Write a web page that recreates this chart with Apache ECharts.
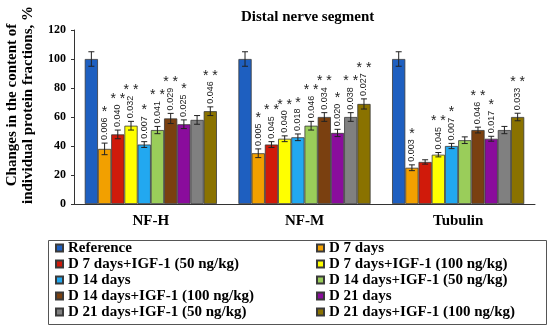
<!DOCTYPE html>
<html><head><meta charset="utf-8">
<script src="https://cdn.jsdelivr.net/npm/echarts@6/dist/echarts.min.js"></script>
<style>html,body{margin:0;padding:0;background:#fff}#c{width:550px;height:326px}</style>
</head><body><div id="c"></div>
<script>
const categories = ['NF-H', 'NF-M', 'Tubulin'];
const seriesNames = ['Reference', 'D 7 days', 'D 7 days+IGF-1 (50 ng/kg)', 'D 7 days+IGF-1 (100 ng/kg)',
  'D 14 days', 'D 14 days+IGF-1 (50 ng/kg)', 'D 14 days+IGF-1 (100 ng/kg)', 'D 21 days',
  'D 21 days+IGF-1 (50 ng/kg)', 'D 21 days+IGF-1 (100 ng/kg)'];
const seriesColors = ['#1E5FC0', '#F2A000', '#D01A0A', '#FFFF00', '#22A8F0', '#9ACD5A', '#7A4010', '#8A0C9C', '#808080', '#8A7200'];

const nfH = [100, 38, 48, 54, 41, 51, 59, 55, 58, 64];
const nfM = [100, 35, 41, 45, 46, 54, 60, 49, 60, 69];
const tubulin = [100, 25, 29, 34, 40, 44, 51, 45, 51, 60];

const nfHErr = [5, 4, 3, 3, 2, 2.5, 3.5, 3, 3, 3];
const nfMErr = [5, 3, 2, 2, 2.3, 3, 3, 2.5, 3, 3.5];
const tubulinErr = [5, 2, 1.5, 1.5, 1.8, 2.3, 2, 1.7, 2.5, 2.6];

const nfHP = ['', '0.006', '0.040', '0.032', '0.007', '0.041', '0.029', '0.025', '', '0.046'];
const nfMP = ['', '0.005', '0.045', '0.040', '0.018', '0.046', '0.034', '0.020', '0.038', '0.027'];
const tubulinP = ['', '0.003', '', '0.045', '0.007', '', '0.046', '0.017', '', '0.033'];

const nfHStars = ['', '*', '* *', '* *', '*', '* *', '* *', '*', '', '* *'];
const nfMStars = ['', '*', '* *', '* *', '*', '* *', '* *', '*', '* *', '* *'];
const tubulinStars = ['', '*', '', '* *', '*', '', '* *', '*', '', '* *'];

const yMin = 0, yMax = 120, yStep = 20;

const values = [nfH, nfM, tubulin];
const errs = [nfHErr, nfMErr, tubulinErr];
const pvals = [nfHP, nfMP, tubulinP];
const stars = [nfHStars, nfMStars, tubulinStars];

const CAT_GAP = 0.14;
const SERIF = '"Liberation Serif", "Times New Roman", serif';
const SANS = '"Liberation Sans", Arial, sans-serif';
const P_FONT = '9px ' + SANS;
const STAR_FONT = '14px ' + SANS;

const measCtx = document.createElement('canvas').getContext('2d');
function textLen(t, font) { measCtx.font = font; return measCtx.measureText(t).width; }

const series = seriesNames.map((name, s) => ({
  name, type: 'bar',
  data: values.map(v => v[s]),
  barGap: 0, barCategoryGap: (CAT_GAP * 100) + '%',
  itemStyle: { color: seriesColors[s], borderColor: '#3a3a3a', borderWidth: 0.8 },
  z: 2
}));

const annoData = [];
categories.forEach((c, ci) => {
  seriesNames.forEach((n, s) => {
    annoData.push([ci, values[ci][s], s, errs[ci][s]]);
  });
});

series.push({
  type: 'custom', name: 'anno', silent: true, z: 5, clip: false,
  encode: { x: 0, y: 1 },
  data: annoData,
  renderItem: function (params, api) {
    const ci = api.value(0), val = api.value(1), s = api.value(2), err = api.value(3);
    const band = api.size([1, 0])[0];
    const used = band * (1 - CAT_GAP);
    const bw = used / seriesNames.length;
    const c0 = api.coord([ci, val]);
    const x = c0[0] - used / 2 + (s + 0.5) * bw;
    const yT = api.coord([ci, val + err])[1];
    const yB = api.coord([ci, val - err])[1];
    const cap = 3;
    const st = { stroke: '#222', lineWidth: 1 };
    const children = [
      { type: 'line', shape: { x1: x, y1: yT, x2: x, y2: yB }, style: st },
      { type: 'line', shape: { x1: x - cap, y1: yT, x2: x + cap, y2: yT }, style: st },
      { type: 'line', shape: { x1: x - cap, y1: yB, x2: x + cap, y2: yB }, style: st }
    ];
    const p = pvals[ci][s];
    const sr = stars[ci][s];
    let top = yT - 3;
    if (p) {
      children.push({ type: 'text', x: x, y: top, rotation: Math.PI / 2,
        style: { text: p, font: P_FONT, fill: '#222', align: 'left', verticalAlign: 'middle' } });
      top -= textLen(p, P_FONT);
    }
    if (sr) {
      children.push({ type: 'text', x: x, y: top - 5.5,
        style: { text: sr, font: STAR_FONT, fill: '#222', align: 'center', verticalAlign: 'middle' } });
    }
    return { type: 'group', children };
  }
});

const legendText = { fontFamily: SERIF, fontWeight: 'bold', fontSize: 15, color: '#000', lineHeight: 16 };
const chart = echarts.init(document.getElementById('c'), null, { renderer: 'canvas' });
chart.setOption({
  animation: false,
  title: { text: 'Distal nerve segment', left: 236, top: 5,
    textStyle: { fontFamily: SERIF, fontWeight: 'bold', fontSize: 15, color: '#000' } },
  grid: { left: 74, right: 15, top: 30, bottom: 122 },
  xAxis: {
    type: 'category', data: categories,
    axisLine: { lineStyle: { color: '#333' } },
    axisTick: { length: 4, lineStyle: { color: '#333' } },
    axisLabel: { fontFamily: SERIF, fontWeight: 'bold', fontSize: 15, color: '#000', margin: 10 }
  },
  yAxis: {
    type: 'value', min: yMin, max: yMax, interval: yStep,
    axisLine: { show: true, lineStyle: { color: '#333' } },
    axisTick: { show: true, length: 3, lineStyle: { color: '#333' } },
    splitLine: { show: false },
    axisLabel: { fontFamily: SERIF, fontWeight: 'bold', fontSize: 12, color: '#000', margin: 8 }
  },
  legend: [
    { orient: 'vertical', left: 55, top: 240, padding: 0, itemGap: 0, itemWidth: 7, itemHeight: 7,
      icon: 'rect', data: seriesNames.filter((n, i) => i % 2 === 0), textStyle: legendText },
    { orient: 'vertical', left: 316, top: 240, padding: 0, itemGap: 0, itemWidth: 7, itemHeight: 7,
      icon: 'rect', data: seriesNames.filter((n, i) => i % 2 === 1), textStyle: legendText }
  ],
  graphic: [{
    type: 'rect', left: 46, top: 238, silent: true,
    shape: { width: 498, height: 84 },
    style: { fill: 'none', stroke: '#555', lineWidth: 1 }
  }, {
    type: 'text', x: 20, y: 105, rotation: Math.PI / 2, silent: true,
    style: { text: 'Changes in the content of\nindividual protein fractions, %',
      font: 'bold 15px ' + SERIF, fill: '#000', align: 'center', verticalAlign: 'middle', lineHeight: 16 }
  }],
  series
});
</script>
</body></html>
